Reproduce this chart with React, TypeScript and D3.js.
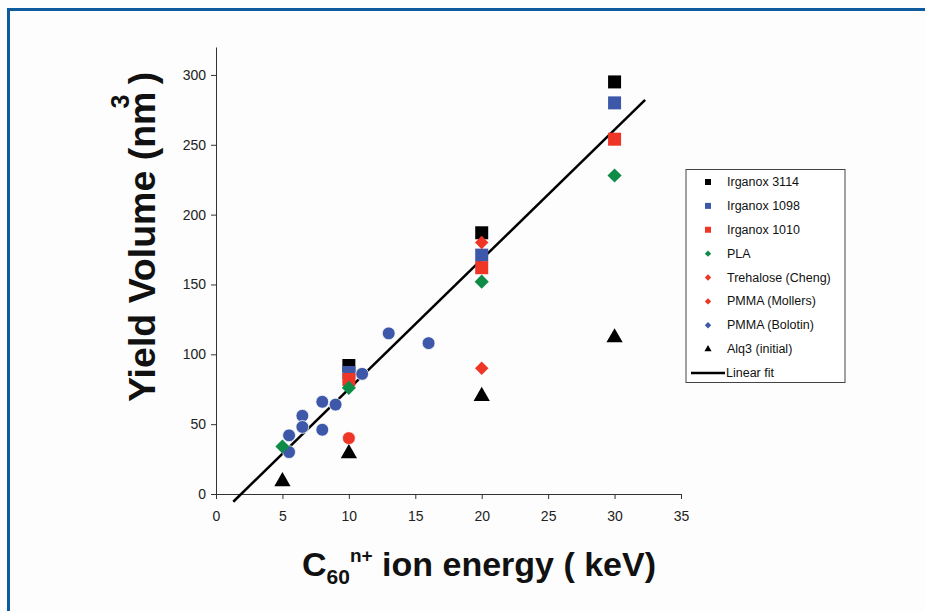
import React, { useEffect, useRef } from 'react';
import * as d3 from 'd3';

// energy (keV), yield volume (nm^3)
const irganox3114 = [[10, 92], [20, 187], [30, 295]];
const irganox1098 = [[10, 87], [20, 171], [30, 280]];
const irganox1010 = [[10, 82], [20, 162], [30, 254]];
const pla = [[5, 34], [10, 76], [20, 152], [30, 228]];
const trehaloseCheng = [[20, 180]];
const pmmaMollers = [[20, 90]];
const pmmaMollersLow = [[10, 40]];
const pmmaBolotin = [
  [5.5, 30], [5.5, 42], [6.5, 56], [6.5, 48], [8, 66], [8, 46],
  [9, 64], [11, 86], [13, 115], [16, 108],
];
const alq3 = [[5, 9], [10, 29], [20, 70], [30, 112]];

const fitSlope = 9.28;
const fitIntercept = -17.6;
const fitRange = [1.3, 32.3];

const xTicks = [0, 5, 10, 15, 20, 25, 30, 35];
const yTicks = [0, 50, 100, 150, 200, 250, 300];

const legendNames = [
  'Irganox 3114', 'Irganox 1098', 'Irganox 1010', 'PLA', 'Trehalose (Cheng)',
  'PMMA (Mollers)', 'PMMA (Bolotin)', 'Alq3 (initial)', 'Linear fit',
];

const BLACK = '#000000';
const BLUE = '#3d58a8';
const RED = '#ee3526';
const GREEN = '#0e8c47';

export default function App() {
  const ref = useRef<SVGSVGElement>(null);

  useEffect(() => {
    const svg = d3.select(ref.current);
    svg.selectAll('*').remove();

    const font = 'Liberation Sans, Arial, sans-serif';

    const x = d3.scaleLinear().domain([0, 35]).range([216, 681]);
    const y = d3.scaleLinear().domain([0, 320]).range([494, 47]);

    svg.append('rect').attr('width', 925).attr('height', 611).attr('fill', '#fdfdfd');
    // outer blue frame (runs off the right and bottom)
    svg.append('rect')
      .attr('x', 8.5).attr('y', 9.5).attr('width', 940).attr('height', 640)
      .attr('fill', 'none').attr('stroke', '#0d5a9e').attr('stroke-width', 3);

    // axes
    const yAxis = svg.append('g')
      .attr('transform', `translate(${x(0)},0)`)
      .call(d3.axisLeft(y).tickValues(yTicks).tickSize(5).tickSizeOuter(0).tickPadding(5));
    const xAxis = svg.append('g')
      .attr('transform', `translate(0,${y(0)})`)
      .call(d3.axisBottom(x).tickValues(xTicks).tickSize(5).tickSizeOuter(0).tickPadding(12));
    [xAxis, yAxis].forEach(g => {
      g.selectAll('path,line').attr('stroke', '#333');
      g.selectAll('text').attr('font-family', font).attr('font-size', 14).attr('fill', '#222');
    });

    // linear fit
    const fit = fitRange.map(e => [e, fitSlope * e + fitIntercept]);
    svg.append('path')
      .attr('d', d3.line().x(d => x(d[0])).y(d => y(d[1]))(fit as any))
      .attr('stroke', BLACK).attr('stroke-width', 2.5).attr('fill', 'none');

    const sq = (s: number) => d3.symbol(d3.symbolSquare, s * s)();
    const series = [
      { data: pmmaBolotin, path: d3.symbol(d3.symbolCircle, 130)(), color: BLUE, rot: 0, ring: true },
      { data: pmmaMollersLow, path: d3.symbol(d3.symbolCircle, 130)(), color: RED, rot: 0, ring: true },
      { data: alq3, path: d3.symbol(d3.symbolTriangle, 115)(), color: BLACK, rot: 0 },
      { data: irganox3114, path: sq(13), color: BLACK, rot: 0 },
      { data: irganox1098, path: sq(13), color: BLUE, rot: 0 },
      { data: irganox1010, path: sq(13), color: RED, rot: 0 },
      { data: trehaloseCheng, path: sq(9.5), color: RED, rot: 45 },
      { data: pmmaMollers, path: sq(9.5), color: RED, rot: 45 },
      { data: pla, path: sq(10), color: GREEN, rot: 45 },
    ];
    series.forEach(s => {
      svg.append('g').selectAll('path')
        .data(s.data)
        .enter()
        .append('path')
        .attr('d', s.path)
        .attr('transform', d => `translate(${x(d[0])},${y(d[1])}) rotate(${s.rot})`)
        .attr('fill', s.color)
        .attr('stroke', s.ring ? '#ffffff' : 'none')
        .attr('stroke-width', 0.8);
    });

    // legend
    const lg = svg.append('g');
    lg.append('rect')
      .attr('x', 686).attr('y', 169.5).attr('width', 159).attr('height', 213)
      .attr('fill', '#ffffff').attr('stroke', '#444').attr('stroke-width', 1);
    const legendMarks = [
      { path: sq(6), color: BLACK, rot: 0 },
      { path: sq(6), color: BLUE, rot: 0 },
      { path: sq(6), color: RED, rot: 0 },
      { path: sq(4.5), color: GREEN, rot: 45 },
      { path: sq(4.5), color: RED, rot: 45 },
      { path: sq(4.5), color: RED, rot: 45 },
      { path: sq(4.5), color: BLUE, rot: 45 },
      { path: d3.symbol(d3.symbolTriangle, 22)(), color: BLACK, rot: 0 },
    ];
    const rowY = d3.scaleLinear().domain([0, 8]).range([182, 373]);
    legendNames.forEach((name, i) => {
      const yy = rowY(i);
      if (i < legendMarks.length) {
        const m = legendMarks[i];
        lg.append('path')
          .attr('d', m.path)
          .attr('transform', `translate(708,${yy}) rotate(${m.rot})`)
          .attr('fill', m.color);
      } else {
        lg.append('line')
          .attr('x1', 691).attr('x2', 725).attr('y1', yy).attr('y2', yy)
          .attr('stroke', BLACK).attr('stroke-width', 2.5);
      }
      lg.append('text')
        .attr('x', i < legendMarks.length ? 727 : 726)
        .attr('y', yy + 4)
        .attr('font-family', font)
        .attr('font-size', 12.5)
        .attr('fill', '#111')
        .text(name);
    });

    // x title
    const xt = svg.append('text')
      .attr('x', 302).attr('y', 576)
      .attr('font-family', font).attr('font-weight', 'bold').attr('font-size', 34)
      .attr('fill', '#111');
    xt.append('tspan').text('C');
    xt.append('tspan').attr('font-size', 21).attr('dy', 8).text('60');
    xt.append('tspan').attr('font-size', 19).attr('dy', -22).text('n+');
    xt.append('tspan').attr('dy', 14).text(' ion energy ( keV)');

    // y title
    const yt = svg.append('text')
      .attr('transform', 'translate(155,402) rotate(-90)')
      .attr('font-family', font).attr('font-weight', 'bold').attr('font-size', 37.5)
      .attr('fill', '#111');
    yt.append('tspan').text('Yield Volume (nm');
    yt.append('tspan').attr('font-size', 25).attr('dy', -26).attr('dx', -17).text('3');
    yt.append('tspan').attr('dy', 26).text(' )');
  }, []);

  return (
    <svg ref={ref} width={925} height={611}
      style={{ position: 'fixed', left: 0, top: 0, display: 'block' }} />
  );
}
